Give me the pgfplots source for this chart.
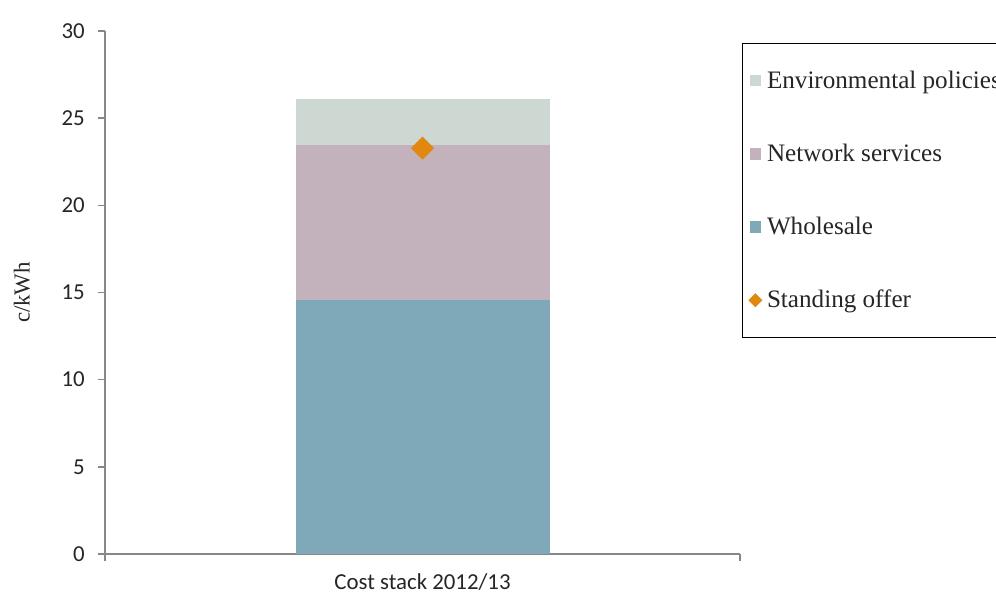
\documentclass[border=0pt]{standalone}
\usepackage{fontspec}
\setmainfont{Carlito}
\newfontfamily\seriffont{Liberation Serif}
\usepackage{pgfplots}
\pgfplotsset{compat=1.18}
\definecolor{envc}{HTML}{CED8D2}
\definecolor{netc}{HTML}{C3B1BC}
\definecolor{whoc}{HTML}{7FA8B9}
\definecolor{offc}{HTML}{E0880F}
\definecolor{axc}{HTML}{878787}
\definecolor{txtc}{HTML}{262626}
\begin{document}
\begin{tikzpicture}
\pgfplotsset{
  common/.style={
    at={(2.1cm,0.82cm)}, anchor=south west,
    scale only axis, width=12.7cm, height=10.46cm,
    xmin=-1, xmax=1, ymin=0, ymax=30,
    clip=false,
  }
}
\begin{axis}[
  common,
  ybar stacked, bar width=5.08cm,
  axis lines=left,
  axis line style={axc, line width=0.8pt, -},
  ytick={0,5,...,30},
  tick align=outside,
  major tick length=0.14cm,
  ytick style={axc, line width=0.8pt},
  xtick={0}, xticklabels={Cost stack 2012/13},
  major x tick style={draw=none},
  minor xtick={-1,1},
  minor tick length=0.14cm,
  minor x tick style={axc, line width=0.8pt},
  xticklabel style={yshift=-0.12cm},
  yticklabel style={xshift=-0.14cm},
  tick label style={font=\fontsize{13}{15}\selectfont, text=txtc},
  /pgf/number format/assume math mode=true,
  every axis y label/.style={at={(axis description cs:-0.131,0.5)}, rotate=90, anchor=center, font=\seriffont\fontsize{13}{15}\selectfont, text=txtc},
  ylabel={c/kWh},
  legend style={at={(axis description cs:1.003,0.977)}, anchor=north west,
    draw=black, line width=0.8pt, fill=white,
    font=\seriffont\fontsize{14.3}{16}\selectfont, text=txtc,
    row sep=0.92cm, inner ysep=0.47cm, inner xsep=0.12cm,
    nodes={inner xsep=0.1cm}},
  legend cell align=left,
]
\addlegendimage{legend image code/.code={\fill[envc] (0cm,-0.1cm) rectangle (0.2cm,0.1cm);}}
\addlegendentry{Environmental policies}
\addlegendimage{legend image code/.code={\fill[netc] (0cm,-0.1cm) rectangle (0.2cm,0.1cm);}}
\addlegendentry{Network services}
\addlegendimage{legend image code/.code={\fill[whoc] (0cm,-0.1cm) rectangle (0.2cm,0.1cm);}}
\addlegendentry{Wholesale}
\addlegendimage{legend image code/.code={\fill[offc] (0.1cm,0.12cm) -- (0.22cm,0cm) -- (0.1cm,-0.12cm) -- (-0.02cm,0cm) -- cycle;}}
\addlegendentry{Standing offer}
\addplot[fill=whoc, draw=none, forget plot] coordinates {(0,14.57)};
\addplot[fill=netc, draw=none, forget plot] coordinates {(0,8.90)};
\addplot[fill=envc, draw=none, forget plot] coordinates {(0,2.63)};
\end{axis}
\begin{axis}[common, hide axis]
\addplot[only marks, mark=square*, mark size=4.4pt, mark options={rotate=45, fill=offc, draw=offc}] coordinates {(0,23.28)};
\end{axis}
\pgfresetboundingbox
\useasboundingbox (0,0) rectangle (19.92cm,11.9cm);
\end{tikzpicture}
\end{document}
